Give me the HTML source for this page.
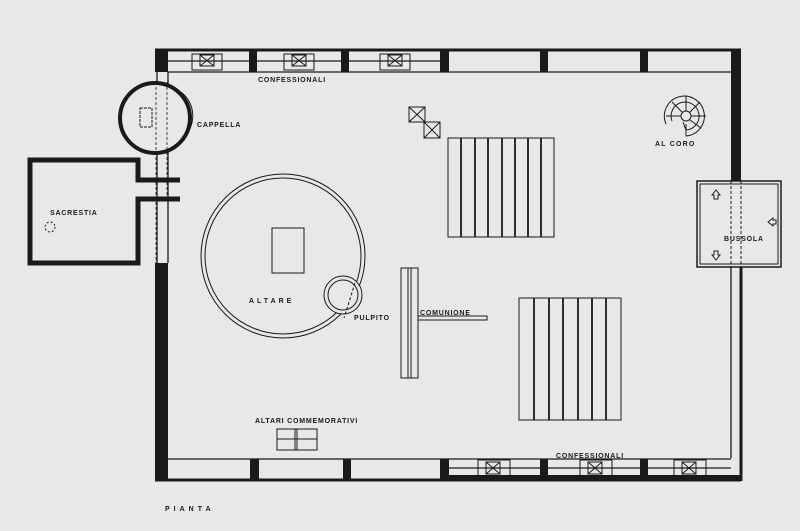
<!DOCTYPE html>
<html><head><meta charset="utf-8"><style>
html,body{margin:0;padding:0;background:#e7e9e9;}
svg{display:block}
text{font-family:"Liberation Sans",sans-serif;font-weight:bold;font-size:7px;fill:#1a1a1a;letter-spacing:0.8px}
</style></head><body>
<svg width="800" height="531" viewBox="0 0 800 531" xmlns="http://www.w3.org/2000/svg">
<rect width="800" height="531" fill="#e7e9e9"/>
<g stroke="#1a1a1a" fill="none" stroke-width="1.3">
<line x1="155" y1="50" x2="741" y2="50" stroke-width="3"/>
<line x1="168" y1="72" x2="731" y2="72"/>
<line x1="168" y1="61" x2="440" y2="61"/>
<rect x="731" y="50" width="10" height="131" fill="#1a1a1a" stroke="none"/>
<line x1="731" y1="266" x2="731" y2="458"/>
<line x1="741" y1="266" x2="741" y2="481" stroke-width="3"/>
<line x1="155" y1="480" x2="741" y2="480" stroke-width="3"/>
<line x1="168" y1="459" x2="731" y2="459"/>
<rect x="440" y="475" width="301" height="6" fill="#1a1a1a" stroke="none"/>
<line x1="449" y1="468" x2="731" y2="468"/>
<rect x="155" y="263" width="13" height="218" fill="#1a1a1a" stroke="none"/>
<rect x="155" y="50" width="13" height="22" fill="#1a1a1a" stroke="none"/>
<line x1="157" y1="72" x2="157" y2="263"/>
<line x1="168" y1="72" x2="168" y2="263"/>
</g>
<g fill="#1a1a1a">
<rect x="249" y="50" width="8" height="22"/><rect x="341" y="50" width="8" height="22"/>
<rect x="440" y="50" width="9" height="22"/><rect x="540" y="50" width="8" height="22"/>
<rect x="640" y="50" width="8" height="22"/>
<rect x="250" y="459" width="9" height="22"/><rect x="343" y="459" width="8" height="22"/>
<rect x="440" y="459" width="9" height="22"/><rect x="540" y="459" width="8" height="22"/>
<rect x="640" y="459" width="8" height="22"/>
</g>
<g stroke="#1a1a1a" fill="none" stroke-width="1">
<rect x="192" y="54" width="30" height="16"/><rect x="200" y="55" width="14" height="11"/><path d="M200 55L214 66M214 55L200 66"/>
<rect x="284" y="54" width="30" height="16"/><rect x="292" y="55" width="14" height="11"/><path d="M292 55L306 66M306 55L292 66"/>
<rect x="380" y="54" width="30" height="16"/><rect x="388" y="55" width="14" height="11"/><path d="M388 55L402 66M402 55L388 66"/>
<rect x="478" y="460" width="32" height="16"/><rect x="486" y="462" width="14" height="12"/><path d="M486 462L500 474M500 462L486 474"/>
<rect x="580" y="460" width="32" height="16"/><rect x="588" y="462" width="14" height="12"/><path d="M588 462L602 474M602 462L588 474"/>
<rect x="674" y="460" width="32" height="16"/><rect x="682" y="462" width="14" height="12"/><path d="M682 462L696 474M696 462L682 474"/>
<!-- chapel -->
<circle cx="155" cy="118" r="35" stroke-width="4" fill="#e7e9e9"/>
<path d="M181 92 A30 30 0 0 1 183 138" stroke-width="1"/>
<rect x="140" y="108" width="12" height="19" stroke-dasharray="3,1"/>
<line x1="156" y1="82" x2="156" y2="263" stroke-dasharray="3,2" stroke-width="0.8"/>
<line x1="167" y1="82" x2="167" y2="200" stroke-dasharray="3,2" stroke-width="0.8"/>
<!-- sacristy -->
<path d="M180 180 H138 V160 H30 V263 H138 V199 H180" stroke-width="5"/>
<circle cx="50" cy="227" r="5" stroke-dasharray="2,2"/>
<!-- altar -->
<circle cx="283" cy="256" r="82"/>
<circle cx="283" cy="256" r="78"/>
<rect x="272" y="228" width="32" height="45"/>
<circle cx="343" cy="295" r="19" fill="#e7e9e9"/>
<circle cx="343" cy="295" r="15"/>
<path d="M355 283 L344 318" stroke-dasharray="3,2"/>
<!-- communion -->
<rect x="401" y="268" width="17" height="110"/>
<line x1="408" y1="268" x2="408" y2="378"/><line x1="411" y1="268" x2="411" y2="378"/>
<rect x="418" y="316" width="69" height="4"/>
<rect x="409" y="107" width="16" height="15"/><path d="M409 107L425 122M425 107L409 122"/>
<rect x="424" y="122" width="16" height="16"/><path d="M424 122L440 138M440 122L424 138"/>
<rect x="448" y="138" width="106" height="99"/>
<g stroke-width="1.8">
<line x1="461" y1="138" x2="461" y2="237"/><line x1="475" y1="138" x2="475" y2="237"/>
<line x1="488" y1="138" x2="488" y2="237"/><line x1="502" y1="138" x2="502" y2="237"/>
<line x1="515" y1="138" x2="515" y2="237"/><line x1="528" y1="138" x2="528" y2="237"/>
<line x1="541" y1="138" x2="541" y2="237"/>
<line x1="534" y1="298" x2="534" y2="420"/><line x1="549" y1="298" x2="549" y2="420"/>
<line x1="563" y1="298" x2="563" y2="420"/><line x1="578" y1="298" x2="578" y2="420"/>
<line x1="592" y1="298" x2="592" y2="420"/><line x1="606" y1="298" x2="606" y2="420"/>
</g>
<rect x="519" y="298" width="102" height="122"/>
<!-- stairs -->
<path d="M666 124 A20 20 0 1 1 686 136 V124"/>
<path d="M672 121 A14 14 0 1 1 686 130"/>
<circle cx="686" cy="116" r="5"/>
<path d="M686 96V111 M706 116H691 M666 116H681 M672 102L682 112 M700 102L690 112 M701 128L690 120 M686 130L683 122"/>
<!-- bussola -->
<rect x="697" y="181" width="84" height="86" stroke-width="1.5" fill="#e7e9e9"/>
<rect x="700" y="184" width="78" height="80"/>
<line x1="731" y1="181" x2="731" y2="267" stroke-dasharray="3,2"/>
<line x1="741" y1="181" x2="741" y2="267" stroke-dasharray="3,2"/>
<path d="M712 195l4-5 4 5h-2v4h-4v-4z"/>
<path d="M712 255l4 5 4-5h-2v-4h-4v4z"/>
<path d="M768 222l5-4v2h3v4h-3v2z"/>
<rect x="277" y="429" width="40" height="21"/>
<line x1="295" y1="429" x2="295" y2="450"/><line x1="297" y1="429" x2="297" y2="450"/>
<line x1="277" y1="439" x2="317" y2="439"/>
</g>
<text x="258" y="82">CONFESSIONALI</text>
<text x="197" y="127">CAPPELLA</text>
<text x="50" y="215">SACRESTIA</text>
<text x="249" y="303" style="letter-spacing:3px">ALTARE</text>
<text x="354" y="320">PULPITO</text>
<text x="420" y="315">COMUNIONE</text>
<text x="655" y="146" style="letter-spacing:1.2px">AL CORO</text>
<text x="724" y="241">BUSSOLA</text>
<text x="255" y="423">ALTARI COMMEMORATIVI</text>
<text x="556" y="458">CONFESSIONALI</text>
<text x="165" y="511" style="letter-spacing:4px">PIANTA</text>
</svg>
</body></html>
